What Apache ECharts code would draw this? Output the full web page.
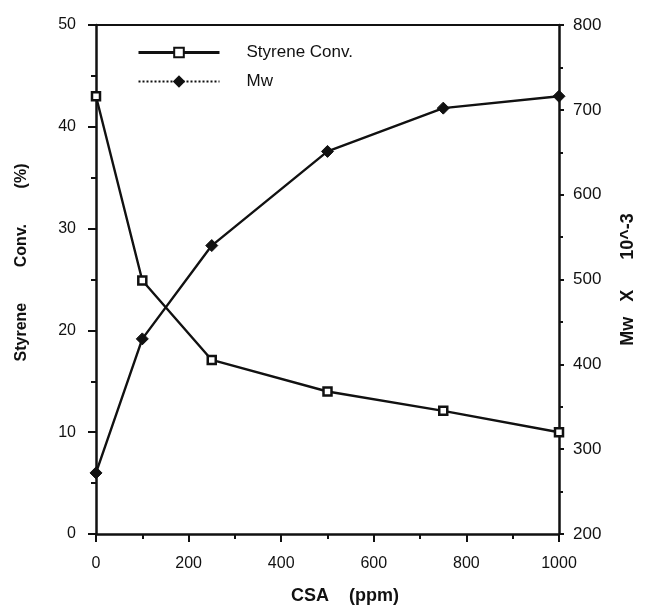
<!DOCTYPE html>
<html>
<head>
<meta charset="utf-8">
<script src="https://cdn.jsdelivr.net/npm/echarts@6/dist/echarts.min.js"></script>
<style>
  html, body { margin: 0; padding: 0; background: #fff; }
  #chart { width: 651px; height: 610px; }
</style>
</head>
<body>
<div id="chart"></div>
<script>
// CSA dose (ppm) on x
const csa = [0, 100, 250, 500, 750, 1000];
// Styrene conversion (%) - left axis
const styreneConv = [43.0, 24.9, 17.1, 14.0, 12.1, 10.0];
// Mw x 10^-3 - right axis
const mw = [272, 430, 540, 651, 702, 716];

const font = 'Liberation Sans, Arial, sans-serif';
const black = '#111';

const pairs = (xs, ys) => xs.map((x, i) => [x, ys[i]]);

const getOption = () => {
  return {
    backgroundColor: '#fff',
    animation: false,
    textStyle: { fontFamily: font, color: black },
    grid: { left: 96, right: 92, top: 25, bottom: 75 },
    legend: {
      orient: 'vertical',
      left: 132,
      top: 39,
      itemWidth: 81,
      itemHeight: 12,
      itemGap: 12,
      textStyle: { fontSize: 17, color: black, fontFamily: font, padding: [0, 0, 0, 22] },
      data: [
        { name: 'Styrene Conv.', lineStyle: { width: 3 } },
        { name: 'Mw', lineStyle: { type: 'dotted', width: 2 } },
      ],
    },
    xAxis: [
      {
        type: 'value',
        min: 0,
        max: 1000,
        interval: 200,
        name: 'CSA    (ppm)',
        nameLocation: 'middle',
        nameGap: 53,
        nameTextStyle: { fontSize: 18, fontWeight: 'bold', color: black, padding: [0, 0, 0, 35] },
        axisLine: { show: true, onZero: false, lineStyle: { color: black, width: 2.5 } },
        axisTick: { show: true, length: 8, lineStyle: { color: black, width: 2 } },
        minorTick: { show: true, splitNumber: 2, length: 5, lineStyle: { color: black, width: 2 } },
        axisLabel: { fontSize: 16, color: black, margin: 22, formatter: (v) => String(v) },
        splitLine: { show: false },
      },
      {
        type: 'value',
        position: 'top',
        min: 0,
        max: 1000,
        axisLine: { show: true, onZero: false, lineStyle: { color: black, width: 2 } },
        axisTick: { show: false },
        axisLabel: { show: false },
        splitLine: { show: false },
      },
    ],
    yAxis: [
      {
        type: 'value',
        position: 'left',
        min: 0,
        max: 50,
        interval: 10,
        name: 'Styrene        Conv.        (%)',
        nameLocation: 'middle',
        nameGap: 66,
        nameRotate: 90,
        nameTextStyle: { fontSize: 16, fontWeight: 'bold', color: black, padding: [0, 0, 0, 34] },
        axisLine: { show: true, onZero: false, lineStyle: { color: black, width: 2.5 } },
        axisTick: { show: true, length: 8, lineStyle: { color: black, width: 2 } },
        minorTick: { show: true, splitNumber: 2, length: 5, lineStyle: { color: black, width: 2 } },
        axisLabel: { fontSize: 16, color: black, margin: 20 },
        splitLine: { show: false },
      },
      {
        type: 'value',
        position: 'right',
        min: 200,
        max: 800,
        interval: 100,
        name: 'Mw   X      10^-3',
        nameLocation: 'middle',
        nameGap: 60,
        nameRotate: 90,
        nameTextStyle: { fontSize: 18, fontWeight: 'bold', color: black },
        axisLine: { show: true, onZero: false, lineStyle: { color: black, width: 2.5 } },
        axisTick: { show: true, length: 5, lineStyle: { color: black, width: 2 } },
        minorTick: { show: true, splitNumber: 2, length: 4, lineStyle: { color: black, width: 2 } },
        axisLabel: { fontSize: 17, color: black, margin: 14 },
        splitLine: { show: false },
      },
    ],
    series: [
      {
        name: 'Styrene Conv.',
        type: 'line',
        xAxisIndex: 0,
        yAxisIndex: 0,
        data: pairs(csa, styreneConv),
        symbol: 'rect',
        symbolSize: 8,
        lineStyle: { color: black, width: 2.4 },
        itemStyle: { color: '#fff', borderColor: black, borderWidth: 2.5 },
        z: 3,
      },
      {
        name: 'Mw',
        type: 'line',
        xAxisIndex: 0,
        yAxisIndex: 1,
        data: pairs(csa, mw),
        symbol: 'diamond',
        symbolSize: 12,
        lineStyle: { color: black, width: 2.4 },
        itemStyle: { color: black, borderColor: black, borderWidth: 1 },
        z: 3,
      },
    ],
  };
};

const initChart = () => {
  const chart = echarts.init(document.getElementById('chart'), null, { renderer: 'canvas' });
  chart.setOption(getOption());
  chart.resize();
};

window.addEventListener('load', () => {
  initChart();
});
</script>
</body>
</html>
